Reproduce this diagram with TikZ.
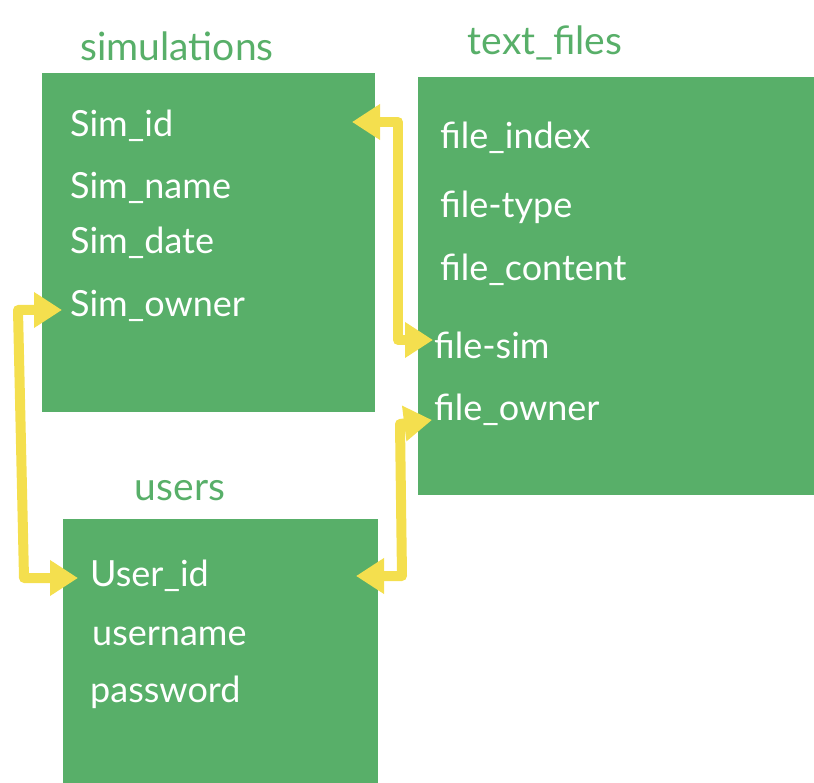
\documentclass[tikz,border=0pt]{standalone}
\usepackage{fontspec}
\setmainfont{Lato}
\usetikzlibrary{arrows.meta}
\definecolor{boxgreen}{HTML}{58AF69}
\definecolor{linkyellow}{HTML}{F4DF4E}
\tikzset{
  table/.style={fill=boxgreen, draw=none, anchor=north west, inner sep=0pt},
  field/.style={text=white, anchor=west, inner sep=0pt, font=\fontsize{36}{40}\selectfont},
  title/.style={text=boxgreen, inner sep=0pt, font=\fontsize{39}{44}\selectfont},
  link/.style={draw=linkyellow, line width=10pt, line join=round,
    {Triangle[length=28pt,width=34pt]}-{Triangle[length=28pt,width=34pt]}}
}
\begin{document}
\begin{tikzpicture}[x=1pt,y=-1pt]
\useasboundingbox (0,0) rectangle (814,783);
% tables
\node[table, minimum width=333pt, minimum height=339pt] (sim) at (42,73) {};
\node[table, minimum width=396pt, minimum height=418pt] (txt) at (418,77) {};
\node[table, minimum width=315pt, minimum height=264pt] (usr) at (63,519) {};
% titles
\node[title] (simt) at (177,46) {simulations};
\node[title] (txtt) at (545,43) {text\_files};
\node[title] (usrt) at (180,491) {users};
% fields
\node[field] (simid) at (70,126) {Sim\_id};
\node[field] (simname) at (70,188) {Sim\_name};
\node[field] (simdate) at (70,243) {Sim\_date};
\node[field] (simowner) at (70,306) {Sim\_owner};
\node[field] (fidx) at (440,138) {file\_index};
\node[field] (ftype) at (440,207) {file-type};
\node[field] (fcont) at (440,270) {file\_content};
\node[field] (fsim) at (434,345) {file-sim};
\node[field] (fown) at (434,410) {file\_owner};
\node[field] (uid) at (90,576) {User\_id};
\node[field] (uname) at (92,636) {username};
\node[field] (upw) at (90,692) {password};
% connector end points
\coordinate (a1) at (352,122);
\coordinate (a2) at (433,340);
\coordinate (b1) at (62,310);
\coordinate (b2) at (78,578);
\coordinate (c1) at (432,420);
\coordinate (c2) at (356,576);
% connectors
\draw[link] (a1) -- (398,122) -- (398,340) -- (a2);
\draw[link] (b1) -- (18,310) -- (24,578) -- (b2);
\draw[link] (c1) -- (400,424) -- (402,576) -- (c2);
\end{tikzpicture}
\end{document}
